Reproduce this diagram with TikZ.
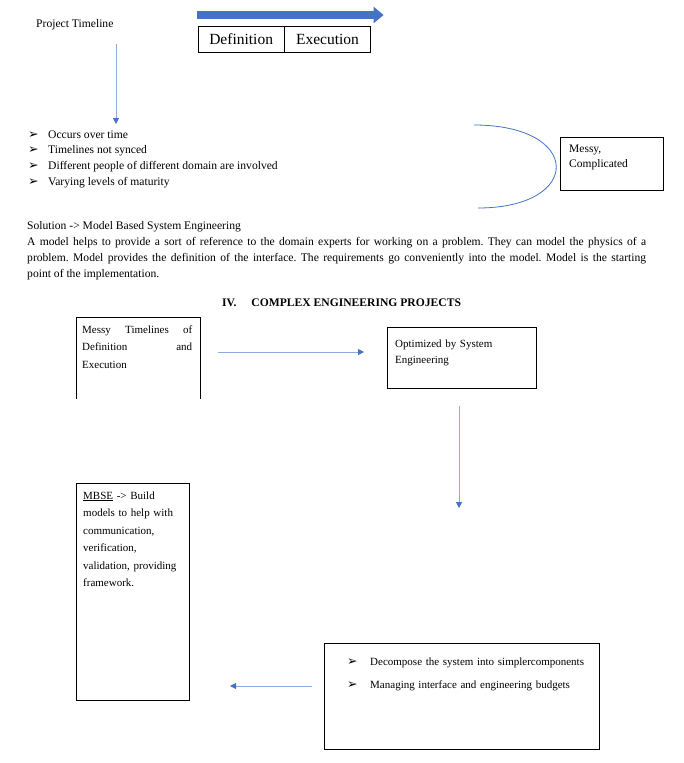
\documentclass[tikz,border=0pt]{standalone}
\usepackage{fontspec}
\setmainfont{Liberation Serif}
\newfontfamily\dingfont{DejaVu Sans}
\usetikzlibrary{arrows.meta,positioning}
\definecolor{darkblue}{HTML}{4472C4}
\definecolor{paleblue}{HTML}{8FAADC}
\newcommand{\arr}{{\dingfont\fontsize{12.5}{10}\selectfont ➢}}
\frenchspacing

\begin{document}
\begin{tikzpicture}[x=1pt,y=-1pt,
  flow/.style={draw=paleblue, line width=0.8pt, -{Triangle[length=6pt,width=6pt,color=darkblue]}},
  box/.style={draw, line width=0.8pt, anchor=north west, inner sep=0pt},
  txt/.style={anchor=base west, inner sep=0pt, align=left, text width=#1, font=\fontsize{11}{17.5}\selectfont},
  txt/.default=120pt,
  cell/.style={draw, line width=0.8pt, minimum width=85.5pt, minimum height=26pt, inner sep=0pt, font=\fontsize{15.5}{18}\selectfont},
  item/.style={anchor=base west, inner sep=0pt, font=\fontsize{11.6}{16}\selectfont}]
\useasboundingbox (0,0) rectangle (684,763);

\node[item] (T) at (36,27) {Project Timeline};
\node[cell, anchor=north west] (D) at (198,26) {Definition};
\node[cell, right=0pt of D] (E) {Execution};
\draw[darkblue, line width=8pt, -{Triangle[length=10pt,width=16pt]}] ([xshift=-1pt,yshift=11pt]D.north west) -- ([xshift=13pt,yshift=11pt]E.north east);

\foreach \t [count=\i] in {Occurs over time, Timelines not synced, Different people of different domain are involved, Varying levels of maturity}
  \node[item] (L\i) at (28,122.3+15.7*\i) {\makebox[20pt][l]{\arr}\t};

\draw[darkblue, line width=0.8pt] (474,125) .. controls (583,125) and (583,208) .. (478,208);
\node[box, minimum width=103pt, minimum height=53pt] (M) at (560,137) {};
\node[txt=90pt, font=\fontsize{11.5}{15}\selectfont] (Mt) at ([xshift=9pt,yshift=-15pt]M.north west) {Messy,\\Complicated};

\node[item] (S) at (27,229) {Solution -> Model Based System Engineering};
\node[item, text width=619pt, align=justify] (P) at (27,245) {A model helps to provide a sort of reference to the domain experts for working on a problem. They can model the physics of a\linebreak problem. Model provides the definition of the interface. The requirements go conveniently into the model. Model is the starting\linebreak point of the implementation.};
\node[item, font=\bfseries\fontsize{11.6}{16}\selectfont] (H) at (222,306) {IV.\hspace{15pt}COMPLEX ENGINEERING PROJECTS};

\node[box, draw=none, minimum width=124pt, minimum height=81pt] (A) at (76,317) {};
\draw[line width=0.8pt] (A.south west) |- (A.north east) -- (A.south east);
\node[txt=110pt, align=justify] (At) at ([xshift=6pt,yshift=-16pt]A.north west) {Messy Timelines of\linebreak Definition and\linebreak Execution};

\node[box, minimum width=149pt, minimum height=61pt] (B) at (387,327) {};
\node[txt=135pt, font=\fontsize{11}{16.5}\selectfont] (Bt) at ([xshift=8pt,yshift=-20pt]B.north west) {Optimized by System\\Engineering};

\node[box, minimum width=113pt, minimum height=217pt] (C) at (76,483) {};
\node[txt=104pt] (Ct) at ([xshift=7pt,yshift=-16pt]C.north west) {\underline{MBSE} -> Build\\models to help with\\communication,\\verification,\\validation, providing\\framework.};

\node[box, minimum width=275pt, minimum height=106pt] (F) at (324,643) {};
\node[txt=250pt] (F1) at ([xshift=23pt,yshift=-22pt]F.north west) {\makebox[23pt][l]{\arr}Decompose the system into simplercomponents};
\node[txt=250pt] (F2) at ([xshift=23pt,yshift=-45pt]F.north west) {\makebox[23pt][l]{\arr}Managing interface and engineering budgets};

\coordinate (t1) at (116,44);
\coordinate (t2) at (116,124);
\coordinate (a1) at (218,352);
\coordinate (a2) at (364,352);
\coordinate (b1) at (459,406);
\coordinate (b2) at (459,508);
\coordinate (c1) at (312,686);
\coordinate (c2) at (230,686);
\draw[flow] (t1) -- (t2);
\draw[flow] (a1) -- (a2);
\draw[flow] (b1) -- (b2);
\draw[flow] (c1) -- (c2);
\end{tikzpicture}
\end{document}
